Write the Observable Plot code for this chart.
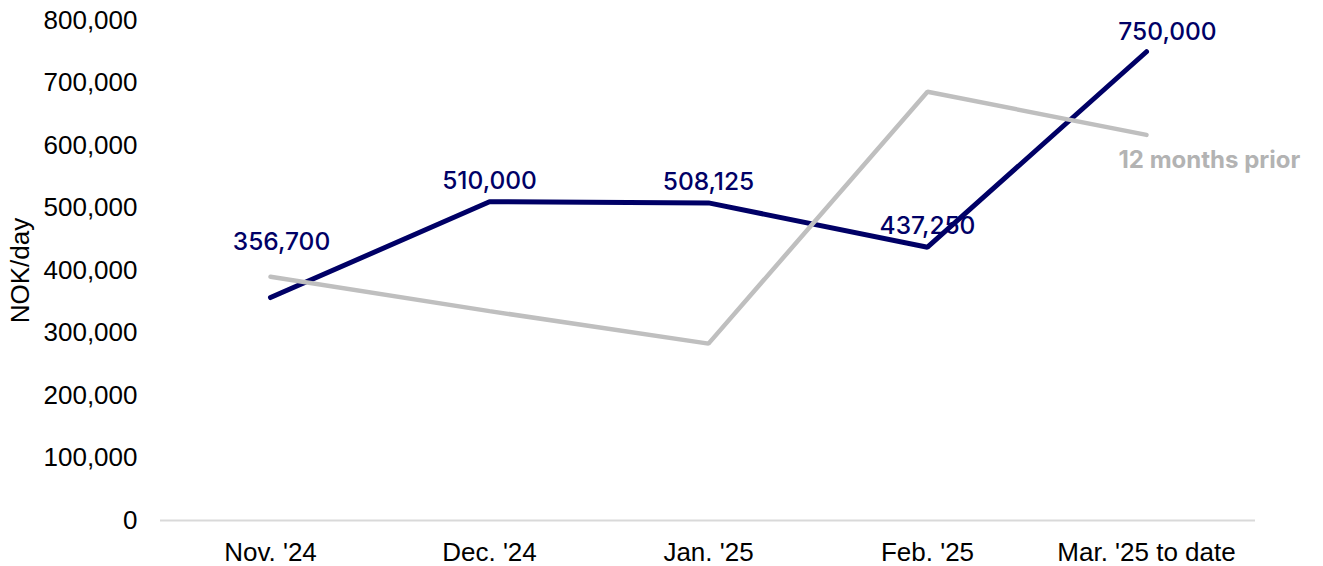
<!DOCTYPE html>
<html>
<head>
<meta charset="utf-8">
<script src="https://cdn.jsdelivr.net/npm/d3@7"></script>
<script src="https://cdn.jsdelivr.net/npm/@observablehq/plot@0.6"></script>
<style>
  html, body { margin: 0; padding: 0; background: #fff; }
  #chart svg { display: block; }
</style>
</head>
<body>
<div id="chart"></div>
<script>
const months = ["Nov. '24", "Dec. '24", "Jan. '25", "Feb. '25", "Mar. '25 to date"];
const current = [356700, 510000, 508125, 437250, 750000];
const prior = [390000, 335000, 283000, 686000, 617000];
const yTicks = [0, 100000, 200000, 300000, 400000, 500000, 600000, 700000, 800000];
const priorLabel = "12 months prior";
const yLabel = "NOK/day";

const navy = "#000066";
const grey = "#bfbfbf";

const cur = months.map((m, i) => ({month: m, value: current[i], i}));
const pri = months.map((m, i) => ({month: m, value: prior[i], i}));
const fmt = d3.format(",");
const labelFont = {fill: navy, fontFamily: "Inter, 'Open Sans', sans-serif", fontSize: 24.5, fontWeight: 500, lineAnchor: "bottom"};

const chart = Plot.plot({
  width: 1323,
  height: 566,
  marginLeft: 160,
  marginRight: 68,
  marginTop: 20,
  marginBottom: 46,
  style: {fontFamily: "'Liberation Sans', Arial, sans-serif", background: "#fff"},
  x: {type: "point", domain: months, padding: 0.5},
  y: {domain: [0, 800000]},
  marks: [
    Plot.axisY({
      ticks: yTicks, tickSize: 0, tickPadding: 23, tickFormat: fmt,
      fontSize: 26, fill: "#000",
      label: yLabel, labelAnchor: "center", labelArrow: "none", labelOffset: 150
    }),
    Plot.axisX({tickSize: 0, tickPadding: 22, fontSize: 26, fill: "#000", label: null}),
    Plot.ruleY([0], {stroke: "#d9d9d9", strokeWidth: 2}),
    Plot.line(cur, {x: "month", y: "value", stroke: navy, strokeWidth: 5, strokeLinecap: "round", strokeLinejoin: "miter"}),
    Plot.line(pri, {x: "month", y: "value", stroke: grey, strokeWidth: 4.5, strokeLinecap: "round", strokeLinejoin: "miter"}),
    Plot.text(cur.filter(d => d.i === 0), {x: "month", y: "value", text: d => fmt(d.value), ...labelFont, dy: -48, dx: 11}),
    Plot.text(cur.filter(d => d.i > 0 && d.i < 4), {x: "month", y: "value", text: d => fmt(d.value), ...labelFont, dy: -13}),
    Plot.text(cur.filter(d => d.i === 4), {x: "month", y: "value", text: d => fmt(d.value), ...labelFont, dy: -12, dx: 21}),
    Plot.text(pri.filter(d => d.i === 4), {x: "month", y: "value", text: () => priorLabel, fill: "#b3b3b3",
      fontFamily: "Inter, 'Open Sans', sans-serif", fontWeight: "bold", fontSize: 24,
      textAnchor: "start", lineAnchor: "bottom", dy: 33, dx: -28})
  ]
});
document.getElementById("chart").appendChild(chart);
</script>
</body>
</html>
